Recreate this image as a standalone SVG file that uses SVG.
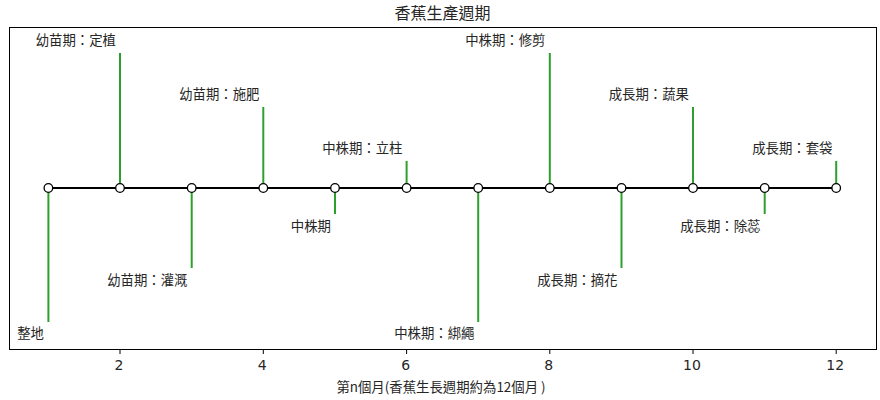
<svg xmlns="http://www.w3.org/2000/svg" width="880" height="400" viewBox="0 0 880 400" xml:lang="zh-Hant-TW" lang="zh-Hant-TW">
<style>
text{font-family:"Noto Sans CJK TC","Noto Sans CJK SC","DejaVu Sans",sans-serif;fill:#262626}
.lbl{font-size:13.4px;text-anchor:end}
.tick{font-size:14px;text-anchor:middle;font-family:"DejaVu Sans","Noto Sans CJK TC",sans-serif}
.stem{stroke:#2ca02c;stroke-width:2}
.dot{fill:#fff;stroke:#000;stroke-width:1.3}
</style>
<rect x="0" y="0" width="880" height="400" fill="#fff"/>
<text x="442.5" y="19" font-size="16px" text-anchor="middle">香蕉生產週期</text>
<rect x="9.5" y="27.5" width="867" height="322" fill="none" stroke="#000" stroke-width="1"/>
<g id="ticks" stroke="#000" stroke-width="1">
<line x1="120" y1="349.5" x2="120" y2="354"/>
<line x1="263.3" y1="349.5" x2="263.3" y2="354"/>
<line x1="406.6" y1="349.5" x2="406.6" y2="354"/>
<line x1="549.8" y1="349.5" x2="549.8" y2="354"/>
<line x1="693" y1="349.5" x2="693" y2="354"/>
<line x1="836.2" y1="349.5" x2="836.2" y2="354"/>
</g>
<g id="ticklabels">
<text class="tick" x="119" y="370">2</text>
<text class="tick" x="262.3" y="370">4</text>
<text class="tick" x="405.6" y="370">6</text>
<text class="tick" x="548.8" y="370">8</text>
<text class="tick" x="692" y="370">10</text>
<text class="tick" x="835.2" y="370">12</text>
</g>
<text x="441" y="392" font-size="13.4px" text-anchor="middle">第n個月(香蕉生長週期約為12個月 )</text>
<g id="connectors">
<line class="stem" x1="48.4" y1="188" x2="48.4" y2="322"/>
<line class="stem" x1="120" y1="188" x2="120" y2="53"/>
<line class="stem" x1="191.7" y1="188" x2="191.7" y2="268"/>
<line class="stem" x1="263.3" y1="188" x2="263.3" y2="107"/>
<line class="stem" x1="335" y1="188" x2="335" y2="214"/>
<line class="stem" x1="406.6" y1="188" x2="406.6" y2="161"/>
<line class="stem" x1="478.2" y1="188" x2="478.2" y2="322"/>
<line class="stem" x1="549.8" y1="188" x2="549.8" y2="53"/>
<line class="stem" x1="621.5" y1="188" x2="621.5" y2="268"/>
<line class="stem" x1="693" y1="188" x2="693" y2="107"/>
<line class="stem" x1="764.7" y1="188" x2="764.7" y2="214"/>
<line class="stem" x1="836.2" y1="188" x2="836.2" y2="161"/>
<line x1="48.4" y1="188" x2="836.2" y2="188" stroke="#000" stroke-width="2"/>
</g>
<g id="m1"><circle class="dot" cx="48.4" cy="188" r="4.3"/><text class="lbl" x="44" y="338">整地</text></g>
<g id="m2"><circle class="dot" cx="120" cy="188" r="4.3"/><text class="lbl" x="116" y="45">幼苗期：定植</text></g>
<g id="m3"><circle class="dot" cx="191.7" cy="188" r="4.3"/><text class="lbl" x="187.5" y="285">幼苗期：灌溉</text></g>
<g id="m4"><circle class="dot" cx="263.3" cy="188" r="4.3"/><text class="lbl" x="259.5" y="99">幼苗期：施肥</text></g>
<g id="m5"><circle class="dot" cx="335" cy="188" r="4.3"/><text class="lbl" x="331" y="231">中株期</text></g>
<g id="m6"><circle class="dot" cx="406.6" cy="188" r="4.3"/><text class="lbl" x="402.5" y="153">中株期：立柱</text></g>
<g id="m7"><circle class="dot" cx="478.2" cy="188" r="4.3"/><text class="lbl" x="474.5" y="338">中株期：綁繩</text></g>
<g id="m8"><circle class="dot" cx="549.8" cy="188" r="4.3"/><text class="lbl" x="545.5" y="45">中株期：修剪</text></g>
<g id="m9"><circle class="dot" cx="621.5" cy="188" r="4.3"/><text class="lbl" x="617.5" y="285">成長期：摘花</text></g>
<g id="m10"><circle class="dot" cx="693" cy="188" r="4.3"/><text class="lbl" x="689" y="99">成長期：蔬果</text></g>
<g id="m11"><circle class="dot" cx="764.7" cy="188" r="4.3"/><text class="lbl" x="760.5" y="231">成長期：除蕊</text></g>
<g id="m12"><circle class="dot" cx="836.2" cy="188" r="4.3"/><text class="lbl" x="832.5" y="153">成長期：套袋</text></g>
</svg>
